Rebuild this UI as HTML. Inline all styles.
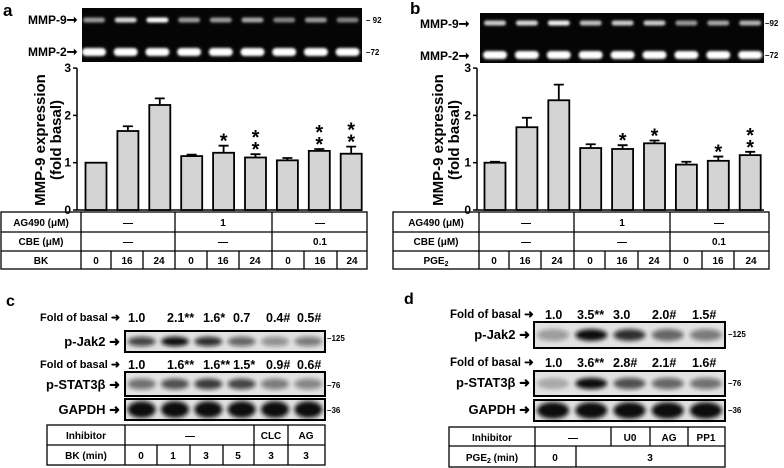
<!DOCTYPE html>
<html><head><meta charset="utf-8"><style>
html,body{margin:0;padding:0;background:#fff;}
svg{display:block;font-family:"Liberation Sans",Arial,sans-serif;font-weight:bold;}
</style></head><body>
<svg id="fig" width="784" height="468" viewBox="0 0 784 468" xmlns="http://www.w3.org/2000/svg">
<defs>
<filter id="bl" x="-30%" y="-80%" width="160%" height="260%"><feGaussianBlur stdDeviation="1.4"/></filter>
<filter id="bl2" x="-30%" y="-80%" width="160%" height="260%"><feGaussianBlur stdDeviation="2"/></filter>
</defs>
<g id="panelA">
<text x="3" y="16" font-size="17">a</text>
<rect x="82" y="8" width="280" height="54" fill="#050505"/>
<text x="28" y="24" font-size="12">MMP-9<tspan font-size="13">➞</tspan></text>
<text x="28" y="56" font-size="12">MMP-2<tspan font-size="13">➞</tspan></text>
<text x="366" y="23" font-size="8">– 92</text>
<text x="366" y="55" font-size="8">–72</text>
<g id="gelA"></g>
<text transform="translate(45,140) rotate(-90)" text-anchor="middle" font-size="15">MMP-9 expression</text>
<text transform="translate(61,140) rotate(-90)" text-anchor="middle" font-size="15">(fold basal)</text>
<g id="chartA"></g>
<g stroke="#000" stroke-width="1.3" fill="none">
<rect x="1" y="212" width="366" height="57"/>
<line x1="1" y1="232" x2="367" y2="232"/><line x1="1" y1="251" x2="367" y2="251"/>
<line x1="81" y1="212" x2="81" y2="269"/><line x1="175" y1="212" x2="175" y2="269"/><line x1="272" y1="212" x2="272" y2="269"/>
<line x1="111" y1="251" x2="111" y2="269"/><line x1="143" y1="251" x2="143" y2="269"/><line x1="207" y1="251" x2="207" y2="269"/><line x1="239" y1="251" x2="239" y2="269"/><line x1="304" y1="251" x2="304" y2="269"/><line x1="337" y1="251" x2="337" y2="269"/>
</g>
<g font-size="10" text-anchor="middle">
<text x="41" y="226">AG490 (μM)</text><text x="128" y="226">—</text><text x="223" y="226">1</text><text x="320" y="226">—</text>
<text x="41" y="245">CBE (μM)</text><text x="128" y="245">—</text><text x="223" y="245">—</text><text x="320" y="245">0.1</text>
<text x="41" y="264">BK</text><text x="96" y="264">0</text><text x="127" y="264">16</text><text x="159" y="264">24</text><text x="191" y="264">0</text><text x="223" y="264">16</text><text x="255" y="264">24</text><text x="288" y="264">0</text><text x="320" y="264">16</text><text x="352" y="264">24</text>
</g>
</g>
<g id="panelB">
<text x="410" y="14" font-size="17">b</text>
<rect x="480" y="13" width="284" height="50" fill="#050505"/>
<text x="420" y="28" font-size="12">MMP-9<tspan font-size="13">➞</tspan></text>
<text x="420" y="60" font-size="12">MMP-2<tspan font-size="13">➞</tspan></text>
<text x="765" y="26" font-size="8">–92</text>
<text x="765" y="58" font-size="8">–72</text>
<g id="gelB"></g>
<text transform="translate(443,140) rotate(-90)" text-anchor="middle" font-size="15">MMP-9 expression</text>
<text transform="translate(459,140) rotate(-90)" text-anchor="middle" font-size="15">(fold basal)</text>
<g id="chartB"></g>
<g stroke="#000" stroke-width="1.3" fill="none">
<rect x="393" y="212" width="376" height="57"/>
<line x1="393" y1="232" x2="769" y2="232"/><line x1="393" y1="251" x2="769" y2="251"/>
<line x1="479" y1="212" x2="479" y2="269"/><line x1="574" y1="212" x2="574" y2="269"/><line x1="670" y1="212" x2="670" y2="269"/>
<line x1="509" y1="251" x2="509" y2="269"/><line x1="541" y1="251" x2="541" y2="269"/><line x1="605" y1="251" x2="605" y2="269"/><line x1="638" y1="251" x2="638" y2="269"/><line x1="702" y1="251" x2="702" y2="269"/><line x1="734" y1="251" x2="734" y2="269"/>
</g>
<g font-size="10" text-anchor="middle">
<text x="436" y="226">AG490 (μM)</text><text x="526" y="226">—</text><text x="622" y="226">1</text><text x="719" y="226">—</text>
<text x="436" y="245">CBE (μM)</text><text x="526" y="245">—</text><text x="622" y="245">—</text><text x="719" y="245">0.1</text>
<text x="436" y="264">PGE<tspan font-size="7" dy="2">2</tspan></text><text x="494" y="264">0</text><text x="525" y="264">16</text><text x="557" y="264">24</text><text x="590" y="264">0</text><text x="622" y="264">16</text><text x="654" y="264">24</text><text x="686" y="264">0</text><text x="718" y="264">16</text><text x="751" y="264">24</text>
</g>
</g>
<g id="panelC">
<text x="6" y="306" font-size="16">c</text>
<g font-size="11">
<text x="40" y="321">Fold of basal ➜</text>
<text x="120" y="346" text-anchor="end" font-size="13">p-Jak2 ➜</text>
<text x="40" y="368">Fold of basal ➜</text>
<text x="120" y="389" text-anchor="end" font-size="13">p-STAT3β ➜</text>
<text x="120" y="414" text-anchor="end" font-size="13">GAPDH ➜</text>
</g>
<g font-size="8"><text x="327" y="341">–125</text><text x="327" y="388">–76</text><text x="327" y="413">–36</text></g>
<g id="blotC"></g>
<g stroke="#000" stroke-width="1.3" fill="none">
<rect x="47" y="425" width="278" height="40"/><line x1="47" y1="445" x2="325" y2="445"/>
<line x1="125" y1="425" x2="125" y2="465"/><line x1="254" y1="425" x2="254" y2="465"/><line x1="288" y1="425" x2="288" y2="465"/>
<line x1="157" y1="445" x2="157" y2="465"/><line x1="190" y1="445" x2="190" y2="465"/><line x1="223" y1="445" x2="223" y2="465"/>
</g>
<g font-size="10" text-anchor="middle">
<text x="86" y="439">Inhibitor</text><text x="190" y="439">—</text><text x="271" y="439">CLC</text><text x="306" y="439">AG</text>
<text x="86" y="459">BK (min)</text><text x="141" y="459">0</text><text x="173" y="459">1</text><text x="206" y="459">3</text><text x="238" y="459">5</text><text x="271" y="459">3</text><text x="306" y="459">3</text>
</g>
</g>
<g id="panelD">
<text x="404" y="304" font-size="16">d</text>
<g font-size="11.5">
<text x="450" y="318">Fold of basal ➜</text>
<text x="530" y="339" text-anchor="end" font-size="13">p-Jak2 ➜</text>
<text x="450" y="366">Fold of basal ➜</text>
<text x="530" y="387" text-anchor="end" font-size="13">p-STAT3β ➜</text>
<text x="530" y="414" text-anchor="end" font-size="13">GAPDH ➜</text>
</g>
<g font-size="8"><text x="728" y="337">–125</text><text x="728" y="386">–76</text><text x="728" y="413">–36</text></g>
<g id="blotD"></g>
<g stroke="#000" stroke-width="1.3" fill="none">
<rect x="449" y="427" width="276" height="40"/><line x1="449" y1="446" x2="725" y2="446"/>
<line x1="535" y1="427" x2="535" y2="467"/><line x1="611" y1="427" x2="611" y2="446"/><line x1="650" y1="427" x2="650" y2="446"/><line x1="688" y1="427" x2="688" y2="446"/>
<line x1="576" y1="446" x2="576" y2="467"/>
</g>
<g font-size="10" text-anchor="middle">
<text x="492" y="441">Inhibitor</text><text x="573" y="441">—</text><text x="630" y="441">U0</text><text x="669" y="441">AG</text><text x="706" y="441">PP1</text>
<text x="492" y="461">PGE<tspan font-size="7" dy="2">2</tspan><tspan dy="-2"> (min)</tspan></text><text x="555" y="461">0</text><text x="650" y="461">3</text>
</g>
</g>
</svg>
<script>
// Panel a data
const catsA = ["0","16","24","0","16","24","0","16","24"];
const valsA = [1.0, 1.67, 2.22, 1.14, 1.21, 1.11, 1.05, 1.25, 1.19];
const errsA = [0, 0.10, 0.14, 0.03, 0.15, 0.07, 0.05, 0.04, 0.15];
const starsA = [0, 0, 0, 0, 1, 2, 0, 2, 2];
const mmp9A = [0.6, 0.85, 1.0, 0.6, 0.6, 0.65, 0.5, 0.6, 0.5];
// Panel b data
const catsB = ["0","16","24","0","16","24","0","16","24"];
const valsB = [1.0, 1.75, 2.32, 1.31, 1.29, 1.41, 0.96, 1.04, 1.16];
const errsB = [0.02, 0.20, 0.33, 0.08, 0.08, 0.06, 0.06, 0.09, 0.07];
const starsB = [0, 0, 0, 0, 1, 1, 0, 1, 2];
const mmp9B = [0.8, 0.85, 0.95, 0.75, 0.8, 0.8, 0.6, 0.65, 0.7];
const yTicks = [0, 1, 2, 3];
// Panel c data
const foldJakC = ["1.0","2.1**","1.6*","0.7","0.4#","0.5#"];
const foldStatC = ["1.0","1.6**","1.6**","1.5*","0.9#","0.6#"];
const jakC = [0.75, 1.0, 0.85, 0.6, 0.4, 0.5];
const statC = [0.55, 0.7, 0.8, 0.75, 0.5, 0.45];
// Panel d data
const foldJakD = ["1.0","3.5**","3.0","2.0#","1.5#"];
const foldStatD = ["1.0","3.6**","2.8#","2.1#","1.6#"];
const jakD = [0.35, 1.0, 0.85, 0.6, 0.5];
const statD = [0.25, 1.0, 0.7, 0.6, 0.55];

const NS = "http://www.w3.org/2000/svg";
function mk(tag, attrs, parent){const e=document.createElementNS(NS,tag);for(const k in attrs)e.setAttribute(k,attrs[k]);parent.appendChild(e);return e;}

function drawChart(g, vals, errs, stars, axX, x0, step, xEnd){
  const y0 = 210, k = 47.3;
  const yS = v => y0 - v * k;
  const xS = i => x0 + i * step;
  const bw = 21;
  const ax = mk("path",{d:`M${axX},${yS(3)} V${y0} H${xEnd}`,stroke:"#000","stroke-width":1.5,fill:"none"},g);
  
  
  yTicks.forEach(t=>{
    const tk = mk("line",{x1:axX-4,x2:axX,y1:yS(t),y2:yS(t),stroke:"#000","stroke-width":1.5},g);
    
    
    const tl = mk("text",{x:axX-6,y:yS(t)+4,"font-size":12,"text-anchor":"end"},g);
    tl.textContent = t;
    
    
  });
  vals.forEach((v,i)=>{
    const cx = xS(i);
    if(errs[i]>0){
      const eb = mk("path",{d:`M${cx},${yS(v)} V${yS(v+errs[i])} M${cx-5},${yS(v+errs[i])} H${cx+5}`,stroke:"#000","stroke-width":1.8,fill:"none"},g);
      
      
    }
    const r = mk("rect",{x:cx-bw/2,y:yS(v),width:bw,height:y0-yS(v),fill:"#d4d4d4",stroke:"#000","stroke-width":1.8},g);
    
    
    for(let s=0;s<stars[i];s++){
      const st = mk("text",{x:cx,y:yS(v+errs[i]) + 2 - s*12,"font-size":20,"text-anchor":"middle"},g);
      st.textContent = "*";
      
      
    }
  });
}
drawChart(document.getElementById("chartA"), valsA, errsA, starsA, 77, 96, 31.9, 362);
drawChart(document.getElementById("chartB"), valsB, errsB, starsB, 477, 495, 31.9, 764);

function drawGel(g, x0, step, y9, y2, m9){
  m9.forEach((a,i)=>{
    const cx = x0 + i*step;
    const b1 = mk("rect",{x:cx-11,y:y9-2.5,width:22,height:5,rx:2.5,fill:"#fff","fill-opacity":a,filter:"url(#bl)"},g);
    
    
    const b2 = mk("rect",{x:cx-12,y:y2-4,width:24,height:8,rx:4,fill:"#fff",filter:"url(#bl)"},g);
    
    
  });
}
drawGel(document.getElementById("gelA"), 94, 31.7, 20, 52, mmp9A);
drawGel(document.getElementById("gelB"), 495, 31.9, 23, 55, mmp9B);

function drawBlot(g, x1, x2, lanes, y1, hJ, y2, hS, y3, hG, jak, stat, foldJ, foldS, fyJ, fyS, fxs){
  const w = x2-x1, step = w/lanes;
  [[y1,hJ,jak,'jak2-blot'],[y2,hS,stat,'stat3-blot'],[y3,hG,null,'gapdh-blot']].forEach(([y,h,arr,name])=>{
    const bx = mk("rect",{x:x1,y:y,width:w,height:h,fill:"#e2e2e2",stroke:"#000","stroke-width":2},g);
    
    
    for(let i=0;i<lanes;i++){
      const cx = x1 + step*(i+0.5);
      const a = arr ? arr[i] : 1;
      const bh = arr ? h*0.45 : h*0.8;
      const band = mk("ellipse",{cx:cx,cy:y+h/2,rx:step*0.42,ry:bh/2,fill:"#111","fill-opacity":a,filter:"url(#bl2)"},g);
      
      
    }
  });
  foldJ.forEach((t,i)=>{
    const tx = mk("text",{x:fxs[i],y:fyJ,"font-size":12.5,"text-anchor":"start"},g);
    tx.textContent = t;
    
    
  });
  foldS.forEach((t,i)=>{
    const tx = mk("text",{x:fxs[i],y:fyS,"font-size":12.5,"text-anchor":"start"},g);
    tx.textContent = t;
    
    
  });
}
drawBlot(document.getElementById("blotC"),125,325,6,331,21,372,24,399,21,jakC,statC,foldJakC,foldStatC,322,369,[128,167,203,233,266,297]);
drawBlot(document.getElementById("blotD"),534,725,5,322,26,371,25,400,21,jakD,statD,foldJakD,foldStatD,319,367,[545,577,613,652,692]);
</script>
</body></html>
